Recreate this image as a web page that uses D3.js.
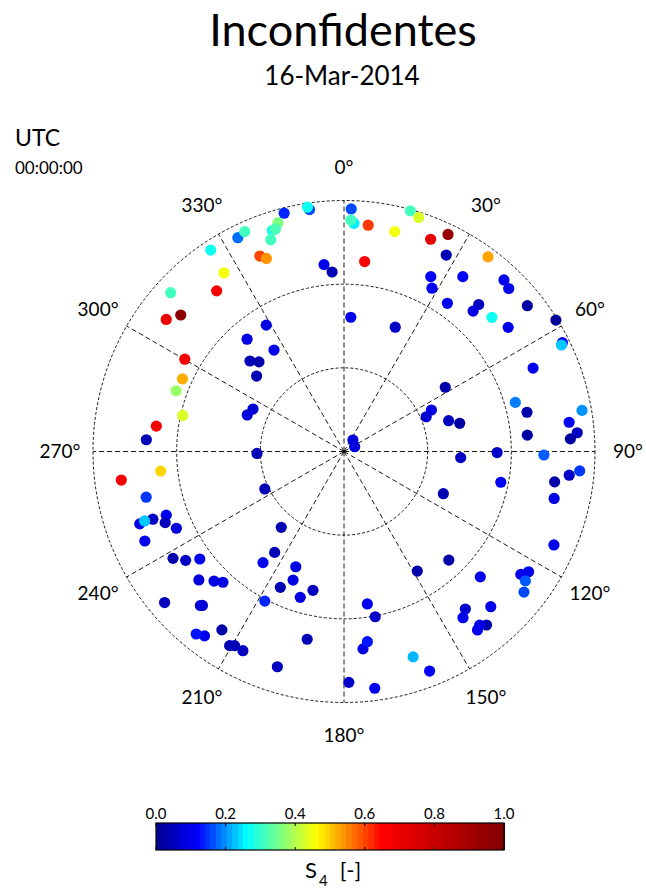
<!DOCTYPE html>
<html>
<head>
<meta charset="utf-8">
<script src="https://cdn.jsdelivr.net/npm/d3@7"></script>
<style>
  body { margin: 0; background: #fff; }
  text { font-family: Lato, "Open Sans", sans-serif; fill: #000; }
</style>
</head>
<body>
<svg width="646" height="890"></svg>
<script>
const svg = d3.select('svg');
const width = +svg.attr('width');
const height = +svg.attr('height');

// satellite azimuth (deg), elevation (deg), S4 index
const azimuth = [
  333.6, 335.7, 336.7, 338.1, 326.5, 326.1, 321.6, 312.5, 309.9, 306.6, 300.1, 319.2, 313.9, 316.5, 310.8,
  351.9, 351.5, 345.9, 343.9, 342.0, 342.9, 340.9, 353.9, 356.2,
  1.7, 2.5, 1.7, 6.1, 6.2, 15.4, 17.7, 13.0, 22.2, 25.6, 2.9, 22.4, 328.4, 325.4,
  26.4, 28.3, 27.5, 36.5, 34.2, 43.0, 45.3, 34.9, 42.5, 42.6, 47.8, 52.9, 51.5, 58.2, 63.5, 63.9, 66.2,
  57.6, 64.6, 67.1, 73.6, 76.3, 74.0, 77.9, 84.9, 80.2, 82.6, 85.4, 86.8,
  90.4, 93.0, 91.0, 94.7, 96.0, 98.2, 101.1, 102.6, 113.0, 38.0, 65.8,
  114.0, 136.0, 132.6, 124.8, 123.1, 125.5, 128.0, 142.4, 144.4, 136.6, 140.6, 142.0, 143.2, 158.7, 148.5,
  171.3, 169.3, 174.5, 173.0, 161.4, 178.8, 172.6,
  245.8, 238.0, 235.5, 233.3, 228.5, 225.1, 222.8, 229.9, 222.6, 223.0, 217.1, 219.0, 214.4, 210.5, 209.4, 206.9,
  216.1, 214.5, 202.7, 201.6, 205.1, 192.6, 196.7, 207.9, 191.1, 197.2, 219.6, 244.7, 268.7,
  295.0, 290.7, 294.2, 289.9, 282.6, 277.7, 273.4, 263.9, 262.7, 257.0, 250.5, 250.5, 250.3, 248.3, 245.4, 250.8
];
const elevation = [
  4.4, 3.5, 13.7, 15.4, 3.4, 12.8, 16.5, 5.7, 13.7, 10.6, 24.0, 36.8, 43.2, 45.7, 48.6,
  2.4, 1.4, 1.9, 4.6, 6.7, 6.5, 9.7, 22.6, 25.5,
  3.0, 8.1, 7.0, 8.4, 21.5, 0.5, 1.9, 9.1, 7.8, 3.7, 41.8, 41.8, 36.8, 45.8,
  20.0, 23.5, 10.6, 3.2, 14.2, 5.9, 6.9, 25.2, 18.5, 21.6, 18.4, 16.2, 6.0, 0.6, 2.5, 3.2, 15.9,
  47.0, 55.3, 58.0, 50.9, 47.3, 26.1, 22.9, 24.0, 3.4, 8.6, 6.1, 8.7,
  35.1, 48.1, 18.3, 5.2, 8.8, 13.7, 32.7, 12.8, 51.3, 84.8, 85.8,
  7.6, 35.9, 23.6, 12.8, 11.0, 10.1, 8.1, 18.7, 16.7, 13.4, 9.5, 11.0, 10.1, 5.5, 39.7,
  34.7, 29.7, 18.9, 21.3, 12.3, 7.2, 4.4,
  11.7, 17.7, 21.1, 25.5, 20.5, 24.2, 26.1, 5.9, 15.0, 14.5, 7.1, 5.8, 12.5, 9.2, 10.1, 9.9,
  40.7, 46.1, 45.2, 40.4, 36.2, 39.0, 35.4, 29.3, 21.4, 9.2, 54.7, 58.6, 58.8,
  54.0, 52.9, 26.5, 26.0, 30.7, 22.1, 19.0, 23.9, 9.5, 17.2, 12.3, 17.3, 22.3, 21.0, 23.9, 14.3
];
const s4 = [
  0.18, 0.31, 0.60, 0.54, 0.27, 0.45, 0.67, 0.31, 0.97, 0.70, 0.67, 0.09, 0.04, 0.03, 0.04,
  0.16, 0.27, 0.14, 0.36, 0.28, 0.32, 0.31, 0.10, 0.04,
  0.16, 0.25, 0.31, 0.61, 0.66, 0.31, 0.43, 0.45, 0.72, 0.93, 0.10, 0.06, 0.09, 0.10,
  0.11, 0.11, 0.04, 0.53, 0.11, 0.10, 0.10, 0.11, 0.05, 0.09, 0.27, 0.10, 0.02, 0.01, 0.12, 0.23, 0.10,
  0.03, 0.09, 0.07, 0.05, 0.02, 0.19, 0.03, 0.02, 0.20, 0.11, 0.05, 0.02,
  0.06, 0.05, 0.17, 0.15, 0.06, 0.03, 0.11, 0.09, 0.04, 0.08, 0.08,
  0.10, 0.03, 0.10, 0.10, 0.10, 0.17, 0.16, 0.07, 0.10, 0.10, 0.03, 0.09, 0.10, 0.12, 0.03,
  0.10, 0.06, 0.09, 0.13, 0.22, 0.06, 0.10,
  0.10, 0.03, 0.06, 0.10, 0.08, 0.09, 0.09, 0.05, 0.08, 0.08, 0.10, 0.13, 0.03, 0.04, 0.04, 0.05,
  0.10, 0.04, 0.09, 0.09, 0.04, 0.05, 0.09, 0.14, 0.04, 0.05, 0.04, 0.04, 0.04,
  0.07, 0.08, 0.52, 0.38, 0.43, 0.68, 0.04, 0.49, 0.68, 0.15, 0.09, 0.06, 0.10, 0.05, 0.08, 0.23
];

const azTicks = d3.range(0, 360, 30);
const elRings = [0, 30, 60];
const cbTicks = [0, 0.2, 0.4, 0.6, 0.8, 1.0];

// jet-like colour map as seen on the colorbar
const color = d3.scaleLinear()
  .domain([0, 0.12, 0.26, 0.46, 0.65, 1])
  .range(['#00008f', '#0000ff', '#00ffff', '#ffff00', '#ff0000', '#800000'])
  .clamp(true);

svg.append('rect').attr('width', width).attr('height', height).attr('fill', '#fff');

// titles
svg.append('text').attr('x', 343).attr('y', 46).attr('text-anchor', 'middle')
  .style('font-size', '45px').text('Inconfidentes');
svg.append('text').attr('x', 342).attr('y', 85).attr('text-anchor', 'middle')
  .style('font-size', '26px').text('16-Mar-2014');
svg.append('text').attr('x', 15).attr('y', 146).style('font-size', '23px').text('UTC');
svg.append('text').attr('x', 15).attr('y', 174).style('font-size', '17px').text('00:00:00');

///////////////// polar plot /////////////////
const cx = 344, cy = 451.5, R = 251;
const rScale = d3.scaleLinear().domain([90, 0]).range([0, R]);
const g = svg.append('g').attr('transform', `translate(${cx},${cy})`);

g.selectAll('circle.ring')
  .data(elRings)
  .enter().append('circle')
  .attr('class', 'ring')
  .attr('r', d => rScale(d))
  .attr('fill', 'none')
  .attr('stroke', '#000')
  .attr('stroke-width', 0.9)
  .attr('stroke-dasharray', '3,2');

g.selectAll('line.spoke')
  .data(azTicks)
  .enter().append('line')
  .attr('class', 'spoke')
  .attr('x1', 0).attr('y1', 0)
  .attr('x2', d => d3.pointRadial(d * Math.PI / 180, rScale(0))[0])
  .attr('y2', d => d3.pointRadial(d * Math.PI / 180, rScale(0))[1])
  .attr('stroke', '#000')
  .attr('stroke-width', 0.9)
  .attr('stroke-dasharray', '5,3');

g.selectAll('text.azl')
  .data(azTicks)
  .enter().append('text')
  .attr('class', 'azl')
  .attr('x', d => d3.pointRadial(d * Math.PI / 180, R + 33)[0])
  .attr('y', d => d3.pointRadial(d * Math.PI / 180, R + 33)[1])
  .attr('dy', '0.35em')
  .attr('text-anchor', 'middle')
  .style('font-size', '19px')
  .text(d => d + '°');

const points = azimuth.map((a, i) => ({az: a, el: elevation[i], s4: s4[i]}));
g.selectAll('circle.sat')
  .data(points)
  .enter().append('circle')
  .attr('class', 'sat')
  .attr('cx', d => d3.pointRadial(d.az * Math.PI / 180, rScale(d.el))[0])
  .attr('cy', d => d3.pointRadial(d.az * Math.PI / 180, rScale(d.el))[1])
  .attr('r', 5.6)
  .attr('fill', d => color(d.s4));

///////////////// colorbar /////////////////
const cbX = d3.scaleLinear().domain([0, 1]).range([156, 504]);
const cbY = 823, cbH = 27;
const nBins = 64;
const bins = d3.range(nBins);
svg.selectAll('rect.cb')
  .data(bins)
  .enter().append('rect')
  .attr('class', 'cb')
  .attr('x', d => cbX(d / nBins))
  .attr('y', cbY)
  .attr('width', cbX(1 / nBins) - cbX(0) + 1)
  .attr('height', cbH)
  .attr('shape-rendering', 'crispEdges')
  .attr('fill', d => color((d + 0.5) / nBins));
svg.append('rect')
  .attr('x', cbX(0)).attr('y', cbY)
  .attr('width', cbX(1) - cbX(0)).attr('height', cbH)
  .attr('fill', 'none').attr('stroke', '#000').attr('stroke-width', 1.2);

const tk = svg.selectAll('g.cbt')
  .data(cbTicks)
  .enter().append('g')
  .attr('class', 'cbt')
  .attr('transform', d => `translate(${cbX(d)},0)`);
tk.append('line').attr('y1', cbY).attr('y2', cbY + 3).attr('stroke', '#000');
tk.append('line').attr('y1', cbY + cbH - 3).attr('y2', cbY + cbH).attr('stroke', '#000');
tk.append('text').attr('y', 819).attr('text-anchor', 'middle')
  .style('font-size', '15px').text(d => d.toFixed(1));

const lab = svg.append('text').attr('x', 305).attr('y', 878).style('font-size', '22px');
lab.append('tspan').text('S');
lab.append('tspan').attr('dx', 2).attr('dy', 8).style('font-size', '15px').text('4');
lab.append('tspan').attr('dx', 12).attr('dy', -8).text('[-]');
</script>
</body>
</html>
